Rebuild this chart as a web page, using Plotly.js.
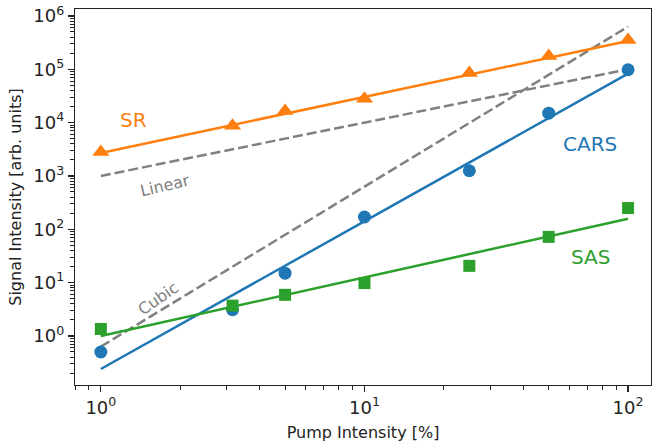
<!DOCTYPE html>
<html><head><meta charset="utf-8">
<script src="https://cdn.plot.ly/plotly-3.0.1.min.js"></script>
<style>body{margin:0;background:#fff}#c{width:652px;height:443px}</style>
</head><body><div id="c"></div>
<script>
const pump = [1, 3.16, 5, 10, 25, 50, 100];
const srVals = [2800, 8700, 16500, 28000, 85000, 178000, 355000];
const carsVals = [0.5, 3.1, 15, 170, 1250, 15000, 98000];
const sasVals = [1.35, 3.7, 5.9, 9.8, 20.6, 72, 250];
const fitX = [1, 100];
const srFit = [2700, 340000];
const carsFit = [0.24, 83000];
const sasFit = [1.0, 157];
const linearRef = [1000, 100000];
const cubicRef = [0.63, 630000];
const yTickVals = [1, 10, 100, 1000, 10000, 100000, 1000000];
const yTickText = ['10<sup>0</sup>','10<sup>1</sup>','10<sup>2</sup>','10<sup>3</sup>','10<sup>4</sup>','10<sup>5</sup>','10<sup>6</sup>'];
const xTickVals = [1, 10, 100];
const xTickText = ['10<sup>0</sup>','10<sup>1</sup>','10<sup>2</sup>'];

const C = {sr:'#ff7f0e', cars:'#1f77b4', sas:'#2ca02c', ref:'#808080'};
const traces = [
  {x:fitX, y:linearRef, mode:'lines', line:{color:C.ref, width:2.5, dash:'10px,4px'}},
  {x:fitX, y:cubicRef, mode:'lines', line:{color:C.ref, width:2.5, dash:'10px,4px'}},
  {x:fitX, y:srFit, mode:'lines', line:{color:C.sr, width:2.5}},
  {x:fitX, y:carsFit, mode:'lines', line:{color:C.cars, width:2.5}},
  {x:fitX, y:sasFit, mode:'lines', line:{color:C.sas, width:2.5}},
  {x:pump, y:srVals, mode:'markers', marker:{symbol:'triangle-up', size:15, color:C.sr}},
  {x:pump, y:carsVals, mode:'markers', marker:{symbol:'circle', size:13, color:C.cars}},
  {x:pump, y:sasVals, mode:'markers', marker:{symbol:'square', size:12, color:C.sas}}
];
const F = 'DejaVu Sans, sans-serif';
const layout = {
  width:652, height:443, showlegend:false,
  paper_bgcolor:'#fff', plot_bgcolor:'#fff',
  margin:{l:75, r:1, t:9, b:58},
  font:{family:F, color:'#222', size:16},
  xaxis:{type:'log', range:[-0.098, 2.087], showgrid:false, zeroline:false,
    showline:true, linecolor:'#222', linewidth:1.2, mirror:true,
    ticks:'outside', ticklen:6, tickwidth:1.2, tickcolor:'#222',
    tickmode:'array', tickvals:xTickVals, ticktext:xTickText, tickfont:{size:18},
    minor:{ticks:'outside', ticklen:3.5, tickwidth:1, tickcolor:'#222', dtick:'D1', showgrid:false},
    title:{text:'Pump Intensity [%]', font:{size:16}, standoff:10}},
  yaxis:{type:'log', range:[-0.92, 6.13], showgrid:false, zeroline:false,
    showline:true, linecolor:'#222', linewidth:1.2, mirror:true,
    ticks:'outside', ticklen:6, tickwidth:1.2, tickcolor:'#222',
    tickmode:'array', tickvals:yTickVals, ticktext:yTickText, tickfont:{size:18},
    minor:{ticks:'outside', ticklen:3.5, tickwidth:1, tickcolor:'#222', dtick:'D1', showgrid:false},
    title:{text:'Signal Intensity [arb. units]', font:{size:16}, standoff:7}},
  annotations:[
    {x:Math.log10(1.33), y:Math.log10(11000), text:'SR', showarrow:false, font:{size:20, color:C.sr}},
    {x:Math.log10(1.75), y:Math.log10(650), text:'Linear', showarrow:false, textangle:-13, font:{size:16, color:C.ref}},
    {x:Math.log10(1.65), y:Math.log10(5), text:'Cubic', showarrow:false, textangle:-35, font:{size:16, color:C.ref}},
    {x:Math.log10(72), y:Math.log10(4000), text:'CARS', showarrow:false, font:{size:20, color:C.cars}},
    {x:Math.log10(72), y:Math.log10(30), text:'SAS', showarrow:false, font:{size:20, color:C.sas}}
  ]
};
Plotly.newPlot('c', traces, layout, {displayModeBar:false, staticPlot:true});
</script></body></html>
